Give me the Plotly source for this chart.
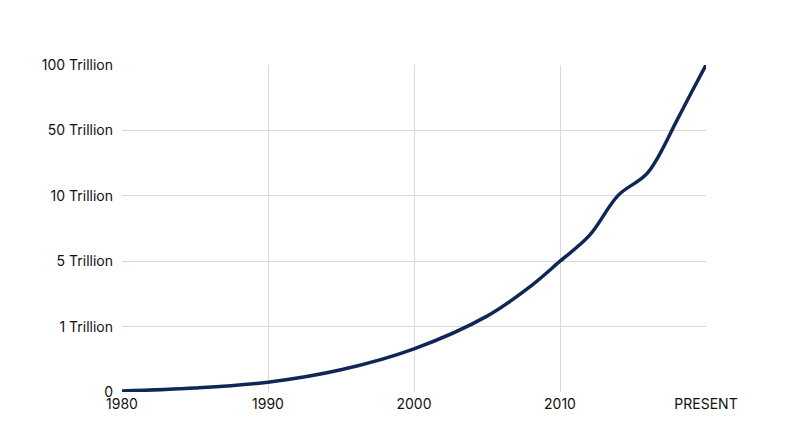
import numpy as np
import plotly.graph_objects as go

years = [1980, 1985, 1990, 1995, 2000, 2005, 2008, 2010, 2012, 2014, 2016, 2018, 2019, 2020]
values_trillion = [0.015, 0.06, 0.15, 0.34, 0.66, 1.64, 3.48, 5.0, 6.95, 10.4, 24.0, 57.5, 79.0, 100.0]
tick_values = [0, 1, 5, 10, 50, 100]
tick_labels = ["0", "1 Trillion", "5 Trillion", "10 Trillion", "50 Trillion", "100 Trillion"]
x_ticks = [1980, 1990, 2000, 2010, 2020]
x_labels = ["1980", "1990", "2000", "2010", "PRESENT"]

# piecewise-linear scale: each labelled value sits on an evenly spaced row
pos = np.interp(values_trillion, tick_values, list(range(len(tick_values))))

fig = go.Figure(go.Scatter(x=years, y=pos, mode="lines",
                           line=dict(color="#0f2657", width=3.5, shape="spline", smoothing=1.0)))
fig.update_layout(
    width=800, height=447, paper_bgcolor="white", plot_bgcolor="white",
    margin=dict(l=114, r=102, t=57, b=63, autoexpand=False), showlegend=False,
    font=dict(family="Inter", size=14, color="#111"),
)
fig.update_xaxes(range=[1980, 2020], tickvals=x_ticks, ticktext=x_labels,
                 showgrid=True, gridcolor="#d9d9d9", zeroline=False,
                 showline=False, ticks="", ticklabelstandoff=2)
fig.update_yaxes(range=[0, 5], tickvals=list(range(len(tick_values))), ticktext=tick_labels,
                 showgrid=True, gridcolor="#d9d9d9", zeroline=False,
                 showline=False, ticks="", ticklabelstandoff=8)
fig.write_html("out.html")
